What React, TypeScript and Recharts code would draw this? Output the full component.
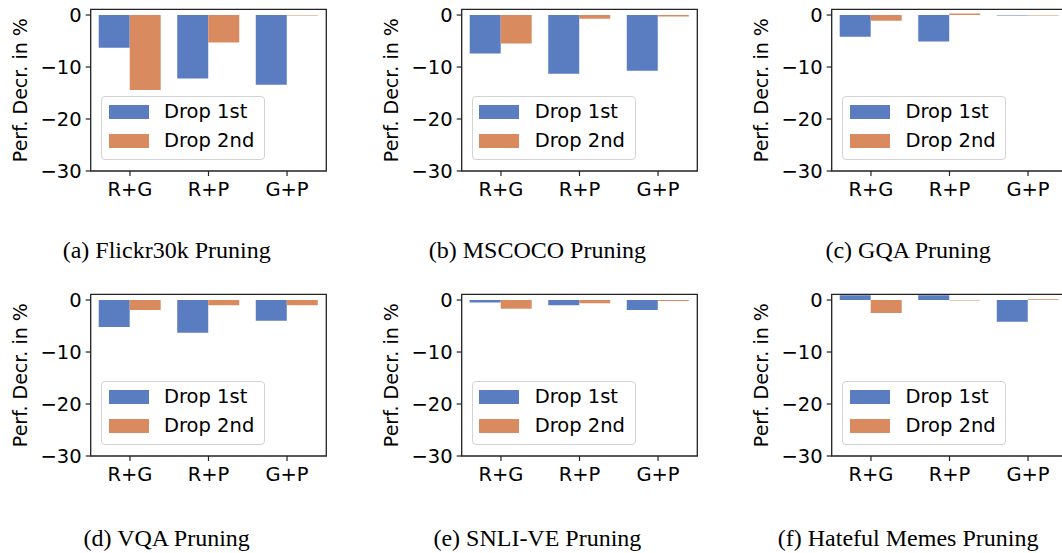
import React from 'react';
import { BarChart, Bar, XAxis, YAxis, ReferenceArea, Legend } from 'recharts';

// ---------- data ----------
const categories = ['R+G', 'R+P', 'G+P'];
const yTicks = [0, -10, -20, -30];
const seriesNames = ['Drop 1st', 'Drop 2nd'];

const flickrDrop1 = [-6.3, -12.2, -13.4];
const flickrDrop2 = [-14.4, -5.3, -0.1];
const mscocoDrop1 = [-7.4, -11.3, -10.7];
const mscocoDrop2 = [-5.5, -0.7, -0.3];
const gqaDrop1 = [-4.2, -5.1, -0.1];
const gqaDrop2 = [-1.1, 0.3, -0.1];
const vqaDrop1 = [-5.2, -6.3, -4.0];
const vqaDrop2 = [-1.9, -1.0, -1.0];
const snliDrop1 = [-0.5, -1.0, -1.9];
const snliDrop2 = [-1.7, -0.6, -0.2];
const hatefulDrop1 = [0.9, 0.9, -4.2];
const hatefulDrop2 = [-2.5, -0.1, 0.15];

const panelTitles = [
  '(a) Flickr30k Pruning',
  '(b) MSCOCO Pruning',
  '(c) GQA Pruning',
  '(d) VQA Pruning',
  '(e) SNLI-VE Pruning',
  '(f) Hateful Memes Pruning',
];

const panelSeries = [
  [flickrDrop1, flickrDrop2],
  [mscocoDrop1, mscocoDrop2],
  [gqaDrop1, gqaDrop2],
  [vqaDrop1, vqaDrop2],
  [snliDrop1, snliDrop2],
  [hatefulDrop1, hatefulDrop2],
];

// ---------- styling ----------
const BLUE = '#5a7dc1';
const ORANGE = '#d98b5f';
const AXIS = '#222222';
const SANS = '"DejaVu Sans", sans-serif';
const SERIF = '"Liberation Serif", "Times New Roman", serif';

const CHART_W = 371;
const CHART_H = 205;
const PLOT_LEFT = 90.7;
const PLOT_TOP = 9.3;
const PLOT_BOTTOM = 171;
const PLOT_W = 235.6;
const Y_AXIS_W = 60;
const X_AXIS_H = 30;
const PANEL_DX = 370.7;
const ROW_DY = 285;

const fmt = (v: number) => (v < 0 ? '\u2212' + Math.abs(v) : String(v));

function buildRows(d1: number[], d2: number[]) {
  return categories.map((c, i) => ({ cat: c, d1: d1[i], d2: d2[i] }));
}

function LegendBox(props: any) {
  const payload = (props && props.payload && props.payload.length
    ? props.payload
    : seriesNames.map((n, i) => ({ value: n, color: i === 0 ? BLUE : ORANGE })));
  return (
    <div
      style={{
        position: 'relative',
        width: 164,
        height: 64,
        boxSizing: 'border-box',
        border: '1px solid #d3d3d3',
        borderRadius: 4,
        background: 'rgba(255,255,255,0.8)',
        fontFamily: SANS,
        fontSize: 19.5,
        color: '#000',
      }}
    >
      {payload.map((it: any, i: number) => (
        <React.Fragment key={String(it.value)}>
          <div
            style={{
              position: 'absolute',
              left: 6.5,
              top: 8.3 + i * 29,
              width: 40,
              height: 14,
              background: it.color,
            }}
          />
          <div
            style={{
              position: 'absolute',
              left: 62,
              top: 5.3 + i * 29,
              height: 20,
              lineHeight: '20px',
              whiteSpace: 'nowrap',
            }}
          >
            {it.value}
          </div>
        </React.Fragment>
      ))}
    </div>
  );
}

function Panel({ index }: { index: number }) {
  const col = index % 3;
  const row = Math.floor(index / 3);
  const [d1, d2] = panelSeries[index];
  const data = buildRows(d1, d2);
  const margin = {
    top: PLOT_TOP,
    left: PLOT_LEFT - Y_AXIS_W,
    right: CHART_W - PLOT_LEFT - PLOT_W,
    bottom: CHART_H - PLOT_BOTTOM - X_AXIS_H,
  };
  const tickStyle = { fontSize: 19.5, fill: '#000', fontFamily: SANS };
  return (
    <div style={{ position: 'absolute', left: col * PANEL_DX, top: row * ROW_DY }}>
      <BarChart
        width={CHART_W}
        height={CHART_H}
        data={data}
        margin={margin}
        barGap={0}
        style={{ fontFamily: SANS }}
      >
        <XAxis
          dataKey="cat"
          height={X_AXIS_H}
          axisLine={false}
          tickLine={{ stroke: AXIS, strokeWidth: 1.2 }}
          tickSize={5}
          tickMargin={6}
          tick={tickStyle}
          interval={0}
        />
        <YAxis
          type="number"
          width={Y_AXIS_W}
          domain={[-30, 1.1]}
          ticks={yTicks}
          allowDataOverflow
          axisLine={false}
          tickLine={{ stroke: AXIS, strokeWidth: 1.2 }}
          tickSize={5}
          tickMargin={4}
          tick={tickStyle}
          tickFormatter={fmt}
          label={{
            value: 'Perf. Decr. in %',
            angle: -90,
            position: 'center',
            dx: 20 - (PLOT_LEFT - Y_AXIS_W / 2),
            style: { fontSize: 19, fill: '#000', fontFamily: SANS },
          }}
        />
        <Bar dataKey="d1" name={seriesNames[0]} fill={BLUE} barSize={31} isAnimationActive={false} />
        <Bar dataKey="d2" name={seriesNames[1]} fill={ORANGE} barSize={31} isAnimationActive={false} />
        <ReferenceArea
          y1={-30}
          y2={1.1}
          fill="none"
          fillOpacity={0}
          stroke={AXIS}
          strokeWidth={1.3}
          ifOverflow="visible"
        />
        <Legend
          layout="horizontal"
          align="center"
          verticalAlign="middle"
          wrapperStyle={{ left: 101, top: 96.2, width: 164, height: 64 }}
          content={(p: any) => <LegendBox payload={p.payload} />}
        />
      </BarChart>
    </div>
  );
}

export default function App() {
  return (
    <div
      style={{
        position: 'absolute',
        left: 0,
        top: 0,
        width: 1062,
        height: 553,
        overflow: 'hidden',
        background: '#fff',
      }}
    >
      {panelTitles.map((_, i) => (
        <Panel key={i} index={i} />
      ))}
      <svg
        width={1062}
        height={553}
        style={{ position: 'absolute', left: 0, top: 0, pointerEvents: 'none' }}
      >
        {panelTitles.map((t, i) => (
          <text
            key={t}
            x={166.7 + (i % 3) * PANEL_DX}
            y={Math.floor(i / 3) === 0 ? 258 : 546}
            textAnchor="middle"
            fontFamily={SERIF}
            fontSize={24}
            fill="#000"
          >
            {t}
          </text>
        ))}
      </svg>
    </div>
  );
}
